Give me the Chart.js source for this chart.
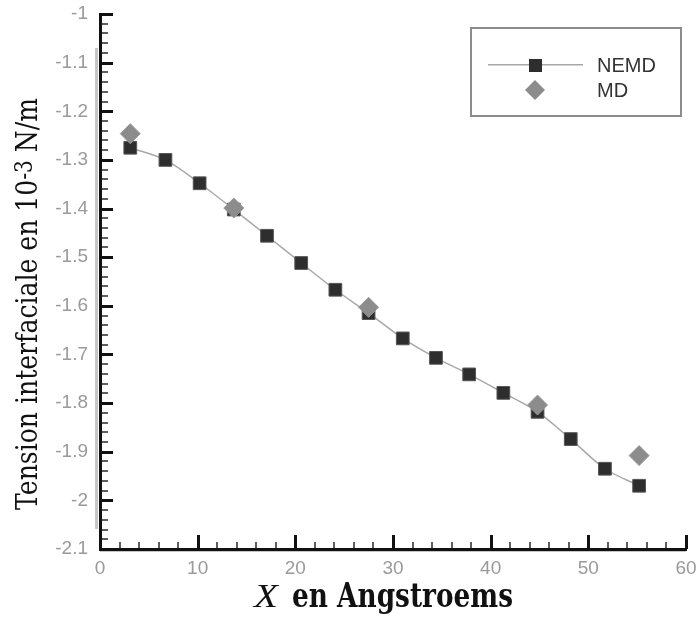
<!DOCTYPE html>
<html>
<head>
<meta charset="utf-8">
<script src="https://cdn.jsdelivr.net/npm/chart.js@4.4.0/dist/chart.umd.min.js"></script>
<style>
  html, body { margin: 0; padding: 0; background: #fff; }
  #wrap { width: 697px; height: 617px; }
</style>
</head>
<body>
<div id="wrap"><canvas id="chart" width="697" height="617"></canvas></div>
<script>
// NEMD profile (squares + smooth line)
const nemdX = [3.1, 6.7, 10.2, 13.7, 17.1, 20.6, 24.1, 27.5, 31.0, 34.4, 37.8, 41.3, 44.8, 48.2, 51.7, 55.2];
const nemdY = [-1.275, -1.300, -1.348, -1.402, -1.456, -1.512, -1.567, -1.615, -1.667, -1.707, -1.741, -1.779, -1.818, -1.874, -1.935, -1.970];
// MD values (diamonds)
const mdX = [3.1, 13.7, 27.5, 44.8, 55.2];
const mdY = [-1.246, -1.399, -1.603, -1.804, -1.908];

const xMin = 0, xMax = 60, xStep = 10, xMinor = 2;
const yMin = -2.1, yMax = -1, yStep = 0.1, yMinor = 0.02;

const seriesNames = ['NEMD', 'MD'];
const yTitle = ['Tension interfaciale en 10', '-3', ' N/m'];
const xTitle = ['X', ' en Angstroems'];

const toPoints = (xs, ys) => xs.map((x, i) => ({ x: x, y: ys[i] }));

// draws text scaled horizontally to a given width
function fitText(ctx, s, x, y, w) {
  const m = ctx.measureText(s).width;
  ctx.save();
  ctx.translate(x, y);
  ctx.scale(w / m, 1);
  ctx.fillText(s, 0, 0);
  ctx.restore();
}

// axes with inner ticks, titles and boxed legend
const decor = {
  id: 'decor',
  afterDraw(chart) {
    const ctx = chart.ctx;
    const xs = chart.scales.x, ys = chart.scales.y;
    const a = chart.chartArea;
    const L = Math.round(a.left), B = Math.round(a.bottom), T = Math.round(a.top), R = Math.round(a.right);
    ctx.save();

    // grey shadow next to the axes
    ctx.fillStyle = '#c6c6c6';
    ctx.fillRect(L - 5, T + 34, 3, B - T - 54);
    ctx.fillRect(L, B + 1, R - L, 2);

    // minor ticks
    ctx.fillStyle = '#5e5e5e';
    const nY = Math.round((yMax - yMin) / yMinor);
    for (let i = 1; i < nY; i++) {
      if (i % 5 === 0) continue;
      const py = Math.round(ys.getPixelForValue(yMin + i * yMinor));
      ctx.fillRect(L, py - 1, 8, 2);
    }
    const nX = Math.round((xMax - xMin) / xMinor);
    for (let i = 1; i < nX; i++) {
      if (i % 5 === 0) continue;
      const px = Math.round(xs.getPixelForValue(xMin + i * xMinor));
      ctx.fillRect(px - 1, B - 7, 2, 7);
    }

    // major ticks
    ctx.fillStyle = '#111';
    ys.ticks.forEach(t => {
      const py = Math.round(ys.getPixelForValue(t.value));
      ctx.fillRect(L, py - 1, 13, 3);
    });
    xs.ticks.forEach(t => {
      const px = Math.round(xs.getPixelForValue(t.value));
      ctx.fillRect(px - 1, B - 14, 3, 14);
    });

    // axis lines
    ctx.fillRect(L - 1, T - 1, 3, B - T + 2);
    ctx.fillRect(L - 1, B - 1, R - L + 2, 3);

    // y title
    ctx.fillStyle = '#111';
    ctx.textBaseline = 'alphabetic';
    ctx.textAlign = 'left';
    const bigF = '30px "DejaVu Serif", "Liberation Serif", serif';
    const supF = '24px "DejaVu Serif", "Liberation Serif", serif';
    const fonts = [bigF, supF, bigF];
    const rise = [0, -5, 0];
    const widths = yTitle.map((s, i) => { ctx.font = fonts[i]; return ctx.measureText(s).width; });
    const total = widths.reduce((p, c) => p + c, 0);
    ctx.save();
    ctx.translate(37, 304);
    ctx.rotate(-Math.PI / 2);
    ctx.scale(412 / total, 1);
    let cx = -total / 2;
    yTitle.forEach((s, i) => {
      ctx.font = fonts[i];
      ctx.fillText(s, cx, rise[i]);
      cx += widths[i];
    });
    ctx.restore();

    // x title
    ctx.font = 'italic 34px "Liberation Serif", serif';
    fitText(ctx, xTitle[0], 254, 607, 24);
    ctx.font = 'bold 33px "DejaVu Serif", "Liberation Serif", serif';
    fitText(ctx, xTitle[1].trim(), 292, 607, 221);

    // legend box
    const line = chart.data.datasets[1], diam = chart.data.datasets[0];
    ctx.fillStyle = '#8c8c8c';
    ctx.fillRect(471, 27, 210, 2);
    ctx.fillRect(471, 115, 210, 2);
    ctx.fillRect(470, 27, 2, 90);
    ctx.fillRect(680, 27, 2, 90);
    ctx.fillStyle = line.borderColor;
    ctx.fillRect(488, 64, 95, 1.5);
    ctx.fillStyle = line.pointBackgroundColor;
    ctx.fillRect(529, 59, 13, 13);
    ctx.fillStyle = diam.pointBackgroundColor;
    ctx.beginPath();
    ctx.moveTo(535, 80);
    ctx.lineTo(545, 90);
    ctx.lineTo(535, 100);
    ctx.lineTo(525, 90);
    ctx.closePath();
    ctx.fill();
    ctx.fillStyle = '#333';
    ctx.font = '20px "Liberation Sans", Arial, sans-serif';
    ctx.textBaseline = 'middle';
    ctx.fillText(seriesNames[0], 597, 66);
    ctx.fillText(seriesNames[1], 597, 91);

    ctx.restore();
  }
};

new Chart(document.getElementById('chart'), {
  type: 'scatter',
  data: {
    datasets: [
      {
        label: seriesNames[1],
        data: toPoints(mdX, mdY),
        showLine: false,
        pointStyle: 'rectRot',
        pointRadius: 10,
        pointHoverRadius: 10,
        pointBackgroundColor: '#8c8c8c',
        pointBorderColor: '#9a9a9a',
        pointBorderWidth: 1
      },
      {
        label: seriesNames[0],
        data: toPoints(nemdX, nemdY),
        showLine: true,
        tension: 0.3,
        borderColor: '#a8a8a8',
        borderWidth: 1.5,
        pointStyle: 'rect',
        pointRadius: 9,
        pointHoverRadius: 9,
        pointBackgroundColor: '#2e2e2e',
        pointBorderColor: '#555',
        pointBorderWidth: 1
      }
    ]
  },
  options: {
    responsive: false,
    animation: false,
    layout: { padding: { top: 14, right: 11, left: 0, bottom: 0 } },
    plugins: { legend: { display: false }, tooltip: { enabled: false } },
    scales: {
      x: {
        type: 'linear',
        min: xMin,
        max: xMax,
        grid: { display: false, drawTicks: false },
        border: { display: false },
        ticks: {
          stepSize: xStep,
          padding: 8,
          color: '#9a9a9a',
          font: { family: '"Liberation Sans", Arial, sans-serif', size: 19 },
          callback: v => String(v)
        },
        afterFit: s => { s.height = 68; s.paddingLeft = 0; s.paddingRight = 0; }
      },
      y: {
        type: 'linear',
        min: yMin,
        max: yMax,
        grid: { display: false, drawTicks: false },
        border: { display: false },
        ticks: {
          stepSize: yStep,
          padding: 12,
          color: '#9a9a9a',
          font: { family: '"Liberation Sans", Arial, sans-serif', size: 19 },
          callback: v => String(Math.round(v * 10) / 10)
        },
        afterFit: s => { s.width = 100; s.paddingTop = 0; s.paddingBottom = 0; }
      }
    }
  },
  plugins: [decor]
});
</script>
</body>
</html>
